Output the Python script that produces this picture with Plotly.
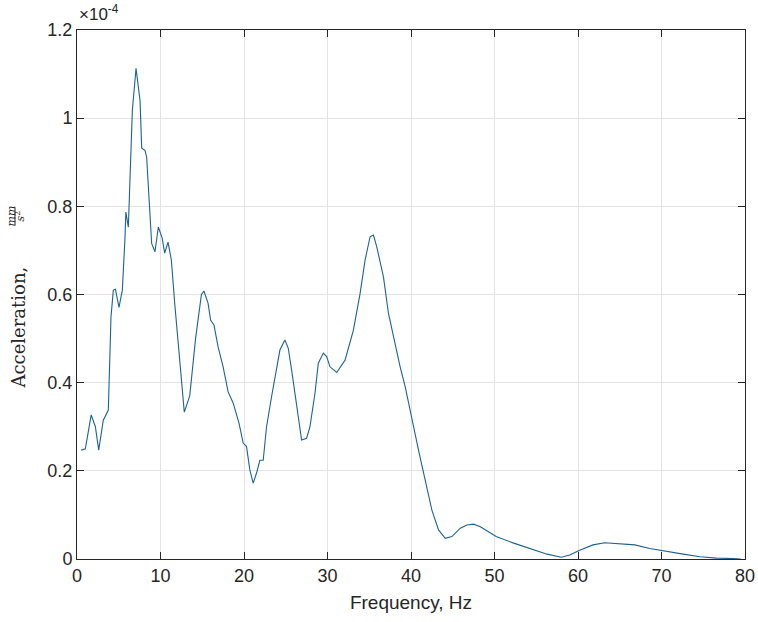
import plotly.graph_objects as go

# Acceleration spectrum (values in units of 1e-4 mm/s^2)
freq_hz = [0.5, 1.0, 1.7, 2.2, 2.6, 3.15, 3.75, 4.07, 4.35, 4.6, 5.03, 5.43, 5.75, 5.85,
           6.15, 6.35, 6.63, 7.07, 7.55, 7.75, 8.14, 8.34, 8.62, 8.94, 9.34, 9.74, 10.2,
           10.5, 10.9, 11.3, 11.7, 12.3, 12.85, 13.5, 14.2, 14.9, 15.2, 15.7, 16.0, 16.4,
           16.9, 17.5, 18.1, 18.7, 19.4, 19.9, 20.3, 20.7, 21.1, 21.5, 21.9, 22.3, 22.7,
           23.3, 23.9, 24.3, 24.9, 25.3, 25.7, 26.3, 26.9, 27.5, 27.9, 28.5, 28.9, 29.5,
           29.9, 30.3, 31.1, 32.1, 33.1, 33.9, 34.5, 35.1, 35.5, 35.9, 36.7, 37.3, 37.9,
           38.7, 39.3, 40.1, 40.9, 41.7, 42.5, 43.3, 44.1, 44.9, 45.9, 46.7, 47.5, 48.3,
           50.2, 52.3, 54.3, 56.3, 58.0, 59.0, 60.2, 61.8, 63.2, 65.0, 66.8, 68.6, 70.6,
           72.6, 74.6, 76.6, 78.6, 79.5]
accel_e4 = [0.247, 0.25, 0.327, 0.30, 0.247, 0.315, 0.338, 0.549, 0.61, 0.612, 0.571, 0.61,
            0.73, 0.787, 0.753, 0.853, 1.018, 1.113, 1.04, 0.932, 0.927, 0.912, 0.82, 0.716,
            0.697, 0.753, 0.728, 0.694, 0.719, 0.678, 0.58, 0.458, 0.333, 0.37, 0.50, 0.60,
            0.608, 0.58, 0.542, 0.531, 0.481, 0.436, 0.379, 0.354, 0.308, 0.263, 0.255,
            0.202, 0.172, 0.195, 0.224, 0.224, 0.30, 0.368, 0.429, 0.474, 0.497, 0.478,
            0.429, 0.354, 0.27, 0.274, 0.30, 0.376, 0.444, 0.467, 0.459, 0.436, 0.423,
            0.451, 0.519, 0.602, 0.678, 0.731, 0.735, 0.708, 0.64, 0.557, 0.504, 0.436,
            0.391, 0.315, 0.247, 0.179, 0.111, 0.066, 0.047, 0.051, 0.070, 0.077, 0.079,
            0.073, 0.051, 0.036, 0.024, 0.011, 0.004, 0.009, 0.020, 0.032, 0.037, 0.034,
            0.032, 0.024, 0.017, 0.011, 0.005, 0.002, 0.001, 0.0]

x_ticks = [0, 10, 20, 30, 40, 50, 60, 70, 80]
y_ticks = [0, 0.2, 0.4, 0.6, 0.8, 1.0, 1.2]
y_tick_labels = ["0", "0.2", "0.4", "0.6", "0.8", "1", "1.2"]

AX = "#262626"
GRID = "#e3e3e3"
SANS = "Liberation Sans, Arial, sans-serif"
SERIF = "DejaVu Serif, serif"

fig = go.Figure()
fig.add_trace(go.Scatter(x=freq_hz, y=accel_e4, mode="lines",
                         line=dict(color="#1d6391", width=1.1),
                         hoverinfo="x+y", showlegend=False))

axis_common = dict(showline=True, linecolor=AX, linewidth=1, mirror="ticks",
                   ticks="inside", ticklen=7, tickcolor=AX, tickwidth=1,
                   showgrid=True, gridcolor=GRID, gridwidth=1, zeroline=False,
                   automargin=False, ticklabeloverflow="allow",
                   tickfont=dict(family=SANS, size=18, color=AX))

fig.update_xaxes(range=[0, 80], tickvals=x_ticks,
                 title=dict(text="Frequency, Hz", font=dict(family=SANS, size=19, color=AX),
                            standoff=11),
                 **axis_common)
fig.update_yaxes(range=[0, 1.2], tickvals=y_ticks, ticktext=y_tick_labels, **axis_common)

# y-axis title: serif text followed by a stacked fraction mm / s^2
FRAC_Y = 78
annotations = [
    dict(text="Acceleration,", xref="paper", yref="paper", x=0, y=0.5, xshift=-59,
         yshift=-33, textangle=-90, showarrow=False, xanchor="center", yanchor="middle",
         font=dict(family=SERIF, size=18, color=AX)),
    dict(text="<i>mm</i>", xref="paper", yref="paper", x=0, y=0.5, xshift=-66,
         yshift=FRAC_Y, textangle=-90, showarrow=False, xanchor="center", yanchor="middle",
         font=dict(family=SERIF, size=11, color=AX)),
    dict(text="<i>s</i><sup>2</sup>", xref="paper", yref="paper", x=0, y=0.5, xshift=-57,
         yshift=FRAC_Y, textangle=-90, showarrow=False, xanchor="center", yanchor="middle",
         font=dict(family=SERIF, size=11, color=AX)),
    # exponent marker for the y axis
    dict(text="\u00d710<sup>-4</sup>", xref="paper", yref="paper", x=0, y=1, xshift=0,
         yshift=4, showarrow=False, xanchor="left", yanchor="bottom",
         font=dict(family=SANS, size=17, color=AX)),
]

fig.update_layout(
    width=758, height=622,
    margin=dict(l=77, r=13, t=30, b=63, autoexpand=False),
    paper_bgcolor="white", plot_bgcolor="white",
    annotations=annotations,
)

# fraction bar, vertical on the page because the title is rotated
fig.add_shape(type="line", xref="paper", yref="paper",
              x0=-62 / 668, x1=-62 / 668,
              y0=0.5 + (FRAC_Y - 9) / 529, y1=0.5 + (FRAC_Y + 9) / 529,
              line=dict(color=AX, width=1))

fig.write_html("out.html")
